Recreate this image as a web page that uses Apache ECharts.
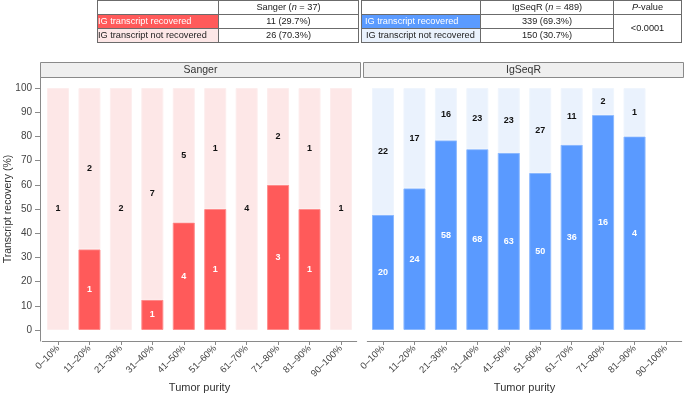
<!DOCTYPE html>
<html>
<head>
<meta charset="utf-8">
<script src="https://cdn.jsdelivr.net/npm/echarts@6/dist/echarts.min.js"></script>
<style>
  html, body { margin:0; padding:0; background:#fff; }
  #wrap { position:relative; width:685px; height:394px; }
  #chart { position:absolute; left:0; top:0; width:685px; height:394px; }
  table.t { position:absolute; top:0; border-collapse:collapse; table-layout:fixed;
    font-family:'Liberation Sans', Arial, sans-serif; font-size:9.2px; color:#222; z-index:5; }
  table.t td { border:1px solid #6b6b6b; height:13px; line-height:13px; padding:0; white-space:nowrap; overflow:hidden; }
  td.c { text-align:center; }
  td.l { text-align:left; padding-left:6px; }
</style>
</head>
<body>
<div id="wrap">
  <div id="chart"></div>
  <table class="t" id="tabS" style="left:97px;width:261px;">
    <colgroup><col style="width:121px"><col style="width:140px"></colgroup>
    <tr><td></td><td class="c" id="hS"></td></tr>
    <tr><td class="l" id="s0" style="background:#FF5A5A;color:#fff;"></td><td class="c" id="sv0"></td></tr>
    <tr><td class="l" id="s1" style="background:#FDE7E7;"></td><td class="c" id="sv1"></td></tr>
  </table>
  <table class="t" id="tabI" style="left:361px;width:320px;">
    <colgroup><col style="width:119px"><col style="width:133px"><col style="width:68px"></colgroup>
    <tr><td></td><td class="c" id="hI"></td><td class="c"><i>P</i>-value</td></tr>
    <tr><td class="l" id="i0" style="background:#5B9BFF;color:#fff;padding-left:3px;"></td><td class="c" id="iv0"></td><td class="c" rowspan="2" id="pv"></td></tr>
    <tr><td class="l" id="i1" style="background:#EAF2FD;padding-left:4px;"></td><td class="c" id="iv1"></td></tr>
  </table>
</div>
<script>
// ---- Data ----
const categories = ['0–10%', '11–20%', '21–30%', '31–40%', '41–50%', '51–60%', '61–70%', '71–80%', '81–90%', '90–100%'];
const sangerRecovered    = [0, 1, 0, 1, 4, 1, 0, 3, 1, 0];
const sangerNotRecovered = [1, 2, 2, 7, 5, 1, 4, 2, 1, 1];
const igseqrRecovered    = [20, 24, 58, 68, 63, 50, 36, 16, 4, 0];
const igseqrNotRecovered = [22, 17, 16, 23, 23, 27, 11, 2, 1, 0];
const yTicks = [0, 10, 20, 30, 40, 50, 60, 70, 80, 90, 100];
const tableRowNames = ['IG transcript recovered', 'IG transcript not recovered'];
const sangerTable = ['11 (29.7%)', '26 (70.3%)'];
const igseqrTable = ['339 (69.3%)', '150 (30.7%)'];
const sangerN = 37;
const igseqrN = 489;
const pValue = '<0.0001';

// ---- Tables ----
document.getElementById('hS').innerHTML = 'Sanger (<i>n</i> = ' + sangerN + ')';
document.getElementById('hI').innerHTML = 'IgSeqR (<i>n</i> = ' + igseqrN + ')';
document.getElementById('s0').textContent = tableRowNames[0];
document.getElementById('s1').textContent = tableRowNames[1];
document.getElementById('i0').textContent = tableRowNames[0];
document.getElementById('i1').textContent = tableRowNames[1];
document.getElementById('sv0').textContent = sangerTable[0];
document.getElementById('sv1').textContent = sangerTable[1];
document.getElementById('iv0').textContent = igseqrTable[0];
document.getElementById('iv1').textContent = igseqrTable[1];
document.getElementById('pv').textContent = pValue;

// ---- Chart ----
const FONT = "'Liberation Sans', Arial, sans-serif";
function pct(a, b) {
  return a.map((v, i) => (v > 0 && (v + b[i]) > 0) ? v / (v + b[i]) * 100 : null);
}

const sRecP = pct(sangerRecovered, sangerNotRecovered);
const sNotP = pct(sangerNotRecovered, sangerRecovered);
const iRecP = pct(igseqrRecovered, igseqrNotRecovered);
const iNotP = pct(igseqrNotRecovered, igseqrRecovered);

function barSeries(data, counts, color, border, labelColor, axisIndex, stack) {
  return {
    type: 'bar', xAxisIndex: axisIndex, yAxisIndex: axisIndex, stack: stack,
    barWidth: 22, data: data,
    itemStyle: { color: color, borderColor: border, borderWidth: 1 },
    label: {
      show: true, position: 'inside', color: labelColor, fontFamily: FONT,
      fontWeight: 'bold', fontSize: 9,
      formatter: p => counts[p.dataIndex] > 0 ? String(counts[p.dataIndex]) : ''
    },
    emphasis: { disabled: true },
    animation: false
  };
}

const xAxisCommon = {
  type: 'category', data: categories, boundaryGap: true,
  splitLine: { show: false },
  axisLine: { show: true, onZero: false, lineStyle: { color: '#8a8a8a', width: 1 } },
  axisTick: { show: true, alignWithLabel: true, length: 4, lineStyle: { color: '#8a8a8a' } },
  axisLabel: { rotate: 45, fontSize: 9.5, color: '#444', fontFamily: FONT, margin: 6, interval: 0 },
  name: 'Tumor purity', nameLocation: 'middle', nameGap: 41, nameMoveOverlap: false,
  nameTextStyle: { fontSize: 11, color: '#333', fontFamily: FONT }
};

const chart = echarts.init(document.getElementById('chart'), null, { renderer: 'canvas' });
chart.setOption({
  animation: false,
  backgroundColor: '#fff',
  grid: [
    { left: 42.3, top: 77, width: 314.4, height: 264, containLabel: false, outerBoundsMode: 'none' },
    { left: 367.3, top: 77, width: 314.4, height: 264, containLabel: false, outerBoundsMode: 'none' }
  ],
  xAxis: [
    Object.assign({}, xAxisCommon, { gridIndex: 0 }),
    Object.assign({}, xAxisCommon, { gridIndex: 1 })
  ],
  yAxis: [
    { type: 'value', gridIndex: 0, min: -4.55, max: 104.55, offset: 2.3,
      splitLine: { show: false },
      axisLine: { show: true, onZero: false, lineStyle: { color: '#8a8a8a' } },
      axisTick: { show: true, length: 5, lineStyle: { color: '#8a8a8a' }, customValues: yTicks },
      axisLabel: { fontSize: 10, color: '#444', fontFamily: FONT, margin: 8, customValues: yTicks },
      name: 'Transcript recovery (%)', nameLocation: 'middle', nameGap: 26, nameMoveOverlap: false,
      nameTextStyle: { fontSize: 10.5, color: '#333', fontFamily: FONT }
    },
    { type: 'value', gridIndex: 1, min: -4.55, max: 104.55,
      splitLine: { show: false }, axisLine: { show: false },
      axisTick: { show: false }, axisLabel: { show: false }
    }
  ],
  series: [
    barSeries(sRecP, sangerRecovered, '#FF5A5A', '#FF8C8C', '#fff', 0, 's0'),
    barSeries(sNotP, sangerNotRecovered, '#FDE7E7', '#FDEDED', '#111', 0, 's0'),
    barSeries(iRecP, igseqrRecovered, '#5A9AFF', '#8CB9FF', '#fff', 1, 's1'),
    barSeries(iNotP, igseqrNotRecovered, '#EAF2FD', '#EFF5FD', '#111', 1, 's1')
  ],
  graphic: [
    { type: 'rect', shape: { x: 40.5, y: 62.5, width: 320, height: 15 },
      style: { fill: '#EFEFEF', stroke: '#8a8a8a', lineWidth: 1 }, z: 10 },
    { type: 'text', x: 200.5, y: 70, style: { text: 'Sanger', font: '10.5px ' + FONT, fill: '#333',
      textAlign: 'center', textVerticalAlign: 'middle' }, z: 11 },
    { type: 'rect', shape: { x: 363.5, y: 62.5, width: 320, height: 15 },
      style: { fill: '#EFEFEF', stroke: '#8a8a8a', lineWidth: 1 }, z: 10 },
    { type: 'text', x: 523.5, y: 70, style: { text: 'IgSeqR', font: '10.5px ' + FONT, fill: '#333',
      textAlign: 'center', textVerticalAlign: 'middle' }, z: 11 }
  ]
});
</script>
</body>
</html>
